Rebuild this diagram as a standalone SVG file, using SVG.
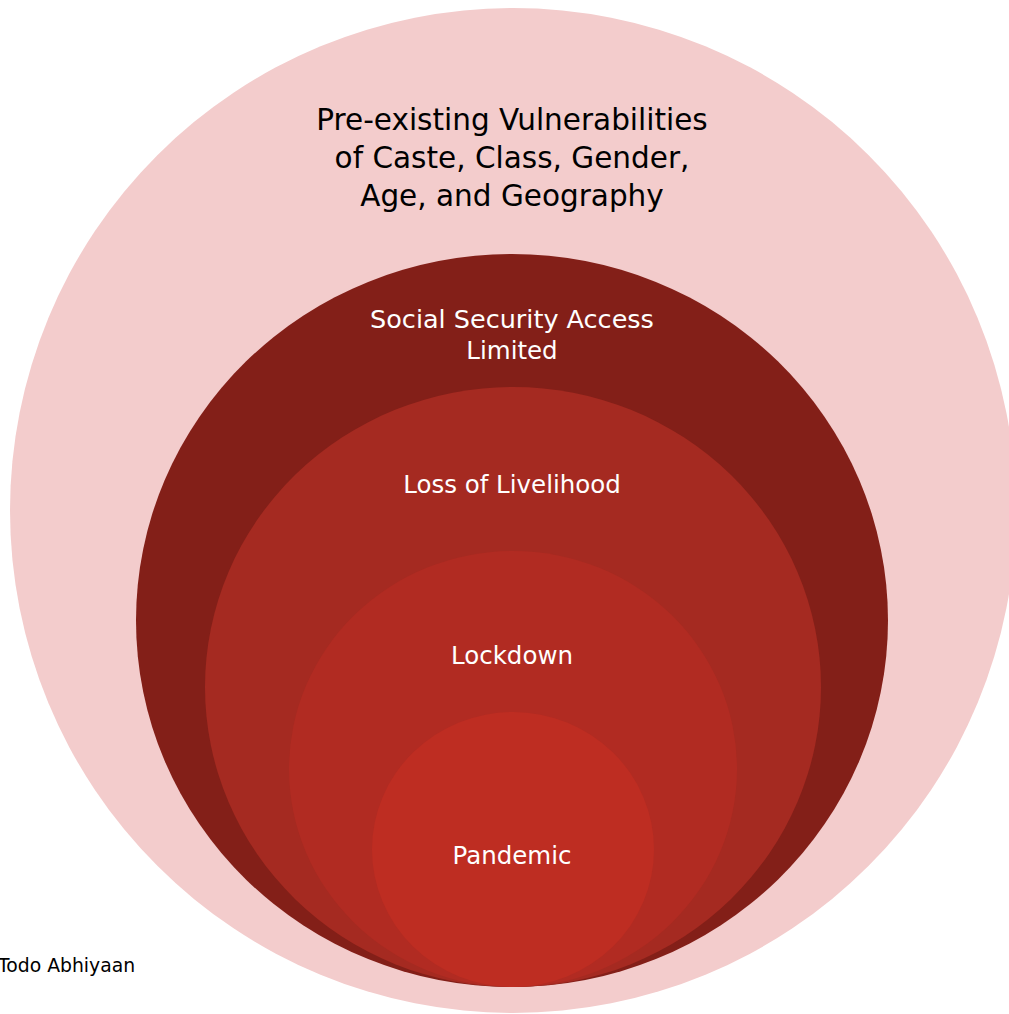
<svg xmlns="http://www.w3.org/2000/svg" width="1009" height="1014" viewBox="0 0 1009 1014">
<style>
.t{font-family:"DejaVu Sans","Liberation Sans",sans-serif;text-anchor:middle}
.w{fill:#ffffff;font-size:24.5px}
.b{fill:#000000;font-size:29.5px}
</style>
<rect width="1009" height="1014" fill="#ffffff"/>
<g id="outer"><ellipse cx="513" cy="510.5" rx="503" ry="502.5" fill="#F3CCCC"/>
<text class="t b" x="512" y="130">Pre-existing Vulnerabilities</text>
<text class="t b" x="512" y="168">of Caste, Class, Gender,</text>
<text class="t b" x="512" y="206">Age, and Geography</text></g>
<g id="social"><ellipse cx="512" cy="620.5" rx="376" ry="366.5" fill="#831F18"/>
<text class="t w" x="512" y="328" style="font-size:25.5px">Social Security Access</text>
<text class="t w" x="512" y="359">Limited</text></g>
<g id="livelihood"><ellipse cx="513" cy="687" rx="308" ry="300" fill="#A52A21"/>
<text class="t w" x="512" y="493">Loss of Livelihood</text></g>
<g id="lockdown"><ellipse cx="513" cy="769" rx="224" ry="218" fill="#B12B22"/>
<text class="t w" x="512" y="664">Lockdown</text></g>
<g id="pandemic"><ellipse cx="513" cy="849.5" rx="141" ry="137.5" fill="#BE2D22"/>
<text class="t w" x="512" y="864">Pandemic</text></g>
<g id="connectors"/>
<text x="-2" y="972" font-family="DejaVu Sans,Liberation Sans,sans-serif" font-size="18.8" fill="#000000">Todo Abhiyaan</text>
</svg>
